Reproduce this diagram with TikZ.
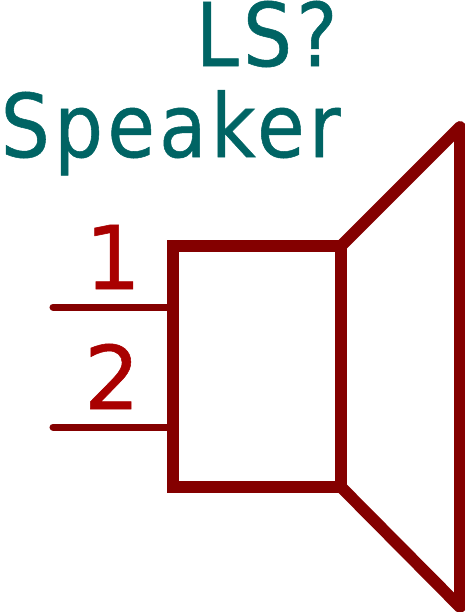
\documentclass[tikz,border=0pt]{standalone}
\usepackage{fontspec}
\setmainfont[FakeBold=.6]{DejaVu Sans}
\newfontfamily\refFont[FakeBold=.6,FakeStretch=.88,LetterSpace=4.8]{DejaVu Sans}
\definecolor{bodyRed}{HTML}{840000}
\definecolor{pinRed}{HTML}{A90000}
\definecolor{fieldTeal}{HTML}{006464}
\tikzset{
  outline/.style = {draw = bodyRed, line width = .118cm, line join = miter},
  conelines/.style = {draw = bodyRed, line width = .118cm, line join = round, line cap = round},
  pinline/.style = {draw = bodyRed, line width = .07cm, line cap = round},
  fieldtext/.style = {text = fieldTeal, inner sep = 0, anchor = base west, font = \fontsize{25}{25}\refFont},
  pintext/.style = {text = pinRed, inner sep = 0, anchor = base, font = \fontsize{25}{25}\selectfont}
}
\begin{document}
\begin{tikzpicture}[x = .01cm, y = -.01cm]
\useasboundingbox (0,0) rectangle (465,612);
\coordinate (tl) at (173,246);
\coordinate (tr) at (341,246);
\coordinate (br) at (341,487);
\coordinate (bl) at (173,487);
\coordinate (conetop) at (460,127);
\coordinate (conebot) at (460,607);
\coordinate (pinoneend) at (53,307);
\coordinate (pinonebody) at (173,307);
\coordinate (pintwoend) at (53,427);
\coordinate (pintwobody) at (173,427);
\draw[outline] (tl) -- (tr) -- (br) -- (bl) -- cycle;
\draw[conelines] (tr) -- (conetop) -- (conebot) -- (br);
\draw[pinline] (pinoneend) -- (pinonebody);
\draw[pinline] (pintwoend) -- (pintwobody);
\node[pintext] (pinone) at (113,289) {1};
\node[pintext] (pintwo) at (112,409) {2};
\node[fieldtext] (ref) at (195,66) {LS?};
\node[fieldtext] (val) at (0,157) {Speaker};
\end{tikzpicture}
\end{document}
